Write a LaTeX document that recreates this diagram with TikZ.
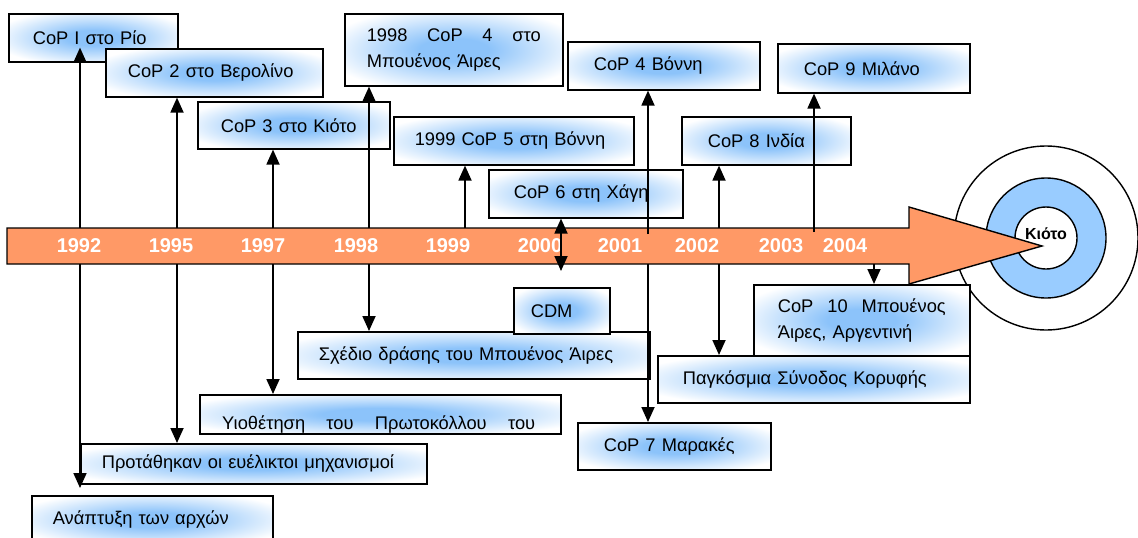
\documentclass[tikz,border=0pt]{standalone}
\usepackage{fontspec}
\setmainfont{Liberation Sans}
\usetikzlibrary{arrows.meta}
\definecolor{glowc}{RGB}{140,195,250}
\definecolor{bandc}{RGB}{255,153,102}
\definecolor{ringc}{RGB}{153,204,255}
\pgfdeclareradialshading{glow}{\pgfpoint{0bp}{0bp}}{color(0bp)=(glowc); color(8bp)=(glowc); color(30bp)=(white); color(50bp)=(white)}
\newcommand{\bxfont}{\fontsize{18.3}{22}\selectfont}
\begin{document}
\begin{tikzpicture}[x=1pt,y=-1pt,
  box/.style={draw=black, line width=1.6pt, shading=glow, anchor=north west, inner ysep=0pt, align=left, font=\bxfont},
  yr/.style={text=white, font=\fontsize{20}{24}\selectfont\bfseries},
  conn/.style={line width=1.8pt, -{Triangle[length=15pt,width=13pt]}},
  dconn/.style={line width=1.8pt, {Triangle[length=15pt,width=13pt]}-{Triangle[length=15pt,width=13pt]}},
  band/.style={fill=bandc, draw=black, line width=1.4pt, line join=miter},
  ring/.style={circle, draw=black, line width=1.4pt, inner sep=0pt}]
\useasboundingbox (0,0) rectangle (1138,538);

% target circles
\node[ring, fill=white, minimum size=184pt] (outer) at (1046,238) {};
\node[ring, fill=ringc, minimum size=120pt] (mid) at (1046,238) {};
\node[ring, fill=white, minimum size=62pt] (inner) at (1046,238) {};

% time band
\draw[band] (7,228) -- (909,228) -- (909,207) -- (1042,246) -- (909,284) -- (909,264) -- (7,264) -- cycle;
\node[font=\fontsize{16}{19}\selectfont\bfseries] (kyoto) at (1046,234) {Κιότο};

% years
\node[yr] (y1992) at (79,246) {1992};
\node[yr] (y1995) at (171,246) {1995};
\node[yr] (y1997) at (263,246) {1997};
\node[yr] (y1998) at (356,246) {1998};
\node[yr] (y1999) at (448,246) {1999};
\node[yr] (y2000) at (540,246) {2000};
\node[yr] (y2001) at (620,246) {2001};
\node[yr] (y2002) at (697,246) {2002};
\node[yr] (y2003) at (781,246) {2003};
\node[yr] (y2004) at (845,246) {2004};

% upper boxes
\node[box, text width=121pt, inner xsep=24pt, minimum height=48pt] (b1) at (8,13) {CoP I στο Ρίο};
\node[box, text width=173pt, inner xsep=22pt, minimum height=48pt] (b2) at (105,48) {CoP 2 στο Βερολίνο};
\node[box, text width=146pt, inner xsep=23pt, minimum height=47pt] (b3) at (197,101) {CoP 3 στο Κιότο};
\node[box, text width=174pt, inner xsep=22pt, minimum height=72pt] (b4) at (344,13) {\hbox to 174pt{1998\hfill CoP\hfill 4\hfill στο}\\[4pt]Μπουένος Άιρες};
\node[box, text width=140pt, inner xsep=26pt, minimum height=48pt] (b5) at (567,41) {CoP 4 Βόννη};
\node[box, text width=198pt, inner xsep=21pt, minimum height=48pt] (b6) at (393,116) {1999 CoP 5 στη Βόννη};
\node[box, text width=144pt, inner xsep=25pt, minimum height=48pt] (b7) at (488,169) {CoP 6 στη Χάγη};
\node[box, text width=117pt, inner xsep=26pt, minimum height=48pt] (b8) at (681,116) {CoP 8 Ινδία};
\node[box, text width=140pt, inner xsep=26pt, minimum height=49pt] (b9) at (777,43) {CoP 9 Μιλάνο};

% lower boxes
\node[box, text width=310pt, inner xsep=21pt, minimum height=47pt] (c2) at (297,331) {Σχέδιο δράσης του Μπουένος Άιρες};
\node[box, text width=62pt, inner xsep=17pt, minimum height=46pt] (c1) at (513,287) {CDM};
\node[box, text width=315pt, inner xsep=23pt, minimum height=39pt] (c3) at (199,394) {};
\begin{scope}
\clip (c3.north west) rectangle (c3.south east);
\node[anchor=base west, font=\bxfont, inner sep=0pt] (c3t) at (222,429) {\hbox to 313pt{Υιοθέτηση\hfill του\hfill Πρωτοκόλλου\hfill του}};
\end{scope}
\node[box, text width=304pt, inner xsep=21pt, minimum height=40pt] (c4) at (80,443) {Προτάθηκαν οι ευέλικτοι μηχανισμοί};
\node[box, text width=199pt, inner xsep=21pt, minimum height=48pt] (c5) at (31,495) {Ανάπτυξη των αρχών};
\node[box, text width=168pt, inner xsep=24pt, minimum height=71pt] (c6) at (753,284) {\hbox to 168pt{CoP\hfill 10\hfill Μπουένος}\\[4pt]Άιρες, Αργεντινή};
\node[box, text width=262pt, inner xsep=25pt, minimum height=47pt] (c7) at (657,355) {Παγκόσμια Σύνοδος Κορυφής};
\node[box, text width=141pt, inner xsep=26pt, minimum height=47pt] (c8) at (577,422) {CoP 7 Μαρακές};

% anchor points on the band
\coordinate (u92) at (80,228);  \coordinate (d92) at (80,264);
\coordinate (u95) at (177,228); \coordinate (d95) at (177,264);
\coordinate (u97) at (273,228); \coordinate (d97) at (273,264);
\coordinate (u98) at (369,228); \coordinate (d98) at (369,264);
\coordinate (u99) at (465,228);
\coordinate (m00) at (561,271);
\coordinate (u01) at (648,234); \coordinate (d01) at (648,264);
\coordinate (u02) at (719,228); \coordinate (d02) at (719,264);
\coordinate (u03) at (814,232);
\coordinate (d04) at (874,264);

% connectors up
\draw[conn, shorten >=-15pt] (u92) -- (u92 |- b1.south);
\draw[conn] (u95) -- (u95 |- b2.south);
\draw[conn] (u97) -- (u97 |- b3.south);
\draw[conn] (u98) -- (u98 |- b4.south);
\draw[conn] (u99) -- (u99 |- b6.south);
\draw[conn] (u01) -- (u01 |- b5.south);
\draw[conn] (u02) -- (u02 |- b8.south);
\draw[conn] (u03) -- (u03 |- b9.south);
% connectors down
\draw[conn, shorten >=7pt] (d92) -- (d92 |- c5.north);
\draw[conn] (d95) -- (d95 |- c4.north);
\draw[conn] (d97) -- (d97 |- c3.north);
\draw[conn] (d98) -- (d98 |- c2.north);
\draw[conn] (d01) -- (d01 |- c8.north);
\draw[conn] (d02) -- (d02 |- c7.north);
\draw[conn] (d04) -- (d04 |- c6.north);
\draw[dconn] (m00 |- b7.south) -- (m00);
\end{tikzpicture}
\end{document}
